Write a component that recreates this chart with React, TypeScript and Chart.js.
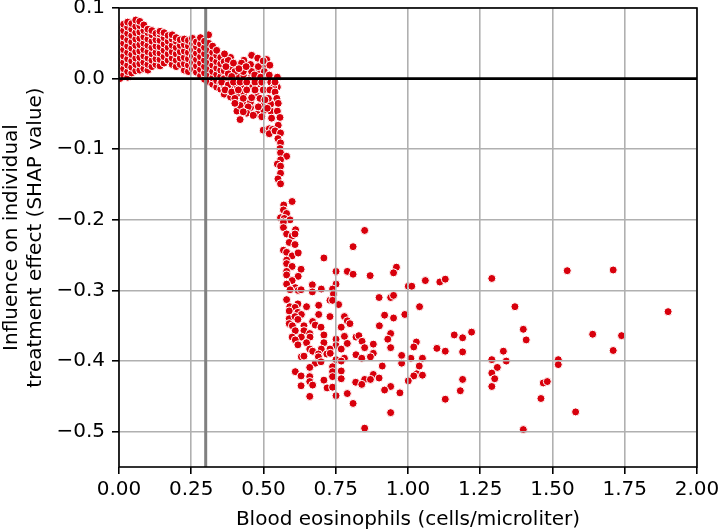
import React, { useEffect, useRef } from 'react';
import { Chart, registerables } from 'chart.js';

Chart.register(...registerables);

// ---- axis ticks / ranges ----
const xTicks = [0, 0.25, 0.5, 0.75, 1, 1.25, 1.5, 1.75, 2];
const yTicks = [0.1, 0, -0.1, -0.2, -0.3, -0.4, -0.5];
const xRange = [0, 2];
const yRange = [-0.55, 0.1];

// ---- reference lines ----
const thresholdX = 0.3;
const baselineY = 0;

const xTitle = 'Blood eosinophils (cells/microliter)';
const yTitle = ['Influence on individual', 'treatment effect (SHAP value)'];

// ---- data: dense cluster, read as columns (x, list of y) ----
const denseColumns: [number, number[]][] = [
  [0.003, [0.0, 0.009, 0.018, 0.027, 0.036, 0.045, 0.054, 0.063, 0.072]],
  [0.016, [0.005, 0.014, 0.023, 0.032, 0.041, 0.05, 0.059, 0.068, 0.077]],
  [0.03, [0.002, 0.01, 0.019, 0.028, 0.037, 0.046, 0.055, 0.064, 0.073, 0.08]],
  [0.044, [0.008, 0.016, 0.025, 0.034, 0.043, 0.052, 0.061, 0.07, 0.078]],
  [0.058, [0.011, 0.02, 0.029, 0.038, 0.047, 0.056, 0.065, 0.074, 0.083]],
  [0.072, [0.012, 0.021, 0.03, 0.039, 0.048, 0.057, 0.066, 0.075, 0.081]],
  [0.086, [0.014, 0.023, 0.032, 0.041, 0.05, 0.059, 0.068, 0.076]],
  [0.1, [0.012, 0.02, 0.029, 0.038, 0.047, 0.056, 0.065, 0.07]],
  [0.114, [0.017, 0.026, 0.035, 0.044, 0.053, 0.062, 0.068]],
  [0.128, [0.02, 0.028, 0.037, 0.046, 0.055, 0.064]],
  [0.142, [0.018, 0.027, 0.036, 0.045, 0.054, 0.063, 0.067]],
  [0.156, [0.022, 0.031, 0.04, 0.049, 0.058, 0.065]],
  [0.17, [0.026, 0.035, 0.044, 0.053, 0.061]],
  [0.184, [0.02, 0.029, 0.038, 0.047, 0.056, 0.062]],
  [0.198, [0.017, 0.026, 0.035, 0.044, 0.053, 0.058]],
  [0.212, [0.02, 0.029, 0.038, 0.047, 0.055]],
  [0.226, [0.012, 0.021, 0.03, 0.039, 0.048, 0.056]],
  [0.24, [0.01, 0.019, 0.028, 0.037, 0.046, 0.054]],
  [0.254, [0.014, 0.023, 0.032, 0.041, 0.05, 0.057]],
  [0.268, [0.009, 0.018, 0.027, 0.036, 0.045, 0.052]],
  [0.282, [0.004, 0.013, 0.022, 0.031, 0.04, 0.049, 0.058]],
  [0.296, [-0.001, 0.008, 0.017, 0.026, 0.035, 0.044, 0.053]],
  [0.31, [-0.004, 0.005, 0.014, 0.023, 0.032, 0.041, 0.05, 0.062]],
  [0.324, [-0.008, 0.001, 0.01, 0.019, 0.028, 0.037, 0.046]],
  [0.338, [-0.012, -0.003, 0.006, 0.015, 0.024, 0.033, 0.04]],
  [0.352, [-0.015, -0.006, 0.003, 0.012, 0.021, 0.03]],
  [0.364, [-0.022, -0.012, 0.0, 0.011, 0.024]],
  [0.386, [-0.026, -0.013, -0.001, 0.014, 0.03]],
  [0.408, [-0.046, -0.022, -0.01, 0.004, 0.019]],
  [0.432, [-0.036, -0.021, -0.009, 0.004, 0.026]],
  [0.455, [-0.041, -0.033, -0.01, 0.001, 0.02]],
  [0.478, [-0.05, -0.025, -0.008, 0.012]],
  [0.501, [-0.045, -0.036, 0.001, 0.015]],
  [0.525, [-0.046, -0.036, -0.005]],
  [0.548, [-0.046, -0.012, 0.002]],
];

// ---- data: transition zone 0.36 - 0.56 ----
const transitionPoints: [number, number][] = [
  [0.378, 0.026], [0.396, 0.022], [0.424, 0.022], [0.459, 0.033], [0.48, 0.029],
  [0.511, 0.027], [0.522, 0.019], [0.459, 0.01], [0.43, 0.01], [0.401, 0.01],
  [0.378, 0.007], [0.482, 0.017], [0.503, 0.01], [0.365, 0.035], [0.37, 0.017],
  [0.39, 0.003], [0.415, 0.014], [0.44, 0.017], [0.45, -0.002], [0.47, 0.005],
  [0.49, 0.002], [0.52, 0.005], [0.535, -0.012], [0.499, 0.025],
  [0.355, -0.005], [0.378, -0.009], [0.396, -0.005], [0.419, -0.005], [0.442, -0.005],
  [0.471, -0.005], [0.494, -0.005], [0.54, -0.005],
  [0.367, -0.016], [0.39, -0.019], [0.413, -0.016], [0.442, -0.016], [0.471, -0.016],
  [0.499, -0.016], [0.522, -0.016], [0.54, -0.019],
  [0.401, -0.028], [0.43, -0.028], [0.459, -0.027], [0.488, -0.028], [0.517, -0.028],
  [0.546, -0.028], [0.419, -0.038], [0.447, -0.04], [0.482, -0.04], [0.513, -0.042],
  [0.551, -0.035], [0.401, -0.035], [0.442, -0.049], [0.465, -0.052], [0.419, -0.058],
  [0.494, -0.054], [0.528, -0.056], [0.557, -0.055], [0.43, -0.047], [0.505, -0.03],
  [0.551, -0.066],
];

// ---- data: steep drop 0.5 - 0.58 ----
const dropPoints: [number, number][] = [
  [0.499, -0.073], [0.52, -0.071], [0.531, -0.072], [0.52, -0.078], [0.54, -0.074],
  [0.559, -0.077], [0.55, -0.085], [0.559, -0.091], [0.557, -0.099], [0.559, -0.105],
  [0.58, -0.11], [0.559, -0.115], [0.548, -0.121], [0.559, -0.124], [0.559, -0.134],
  [0.55, -0.142], [0.559, -0.149],
];

// ---- data: scattered tail (x > 0.55, y < -0.17) ----
const tailPoints: [number, number][] = [
  [0.599, -0.174], [0.57, -0.179], [0.569, -0.186], [0.58, -0.191], [0.559, -0.197],
  [0.572, -0.198], [0.592, -0.2], [0.569, -0.203], [0.569, -0.211], [0.611, -0.214],
  [0.58, -0.22], [0.599, -0.223], [0.609, -0.22], [0.85, -0.215], [0.589, -0.232],
  [0.609, -0.235], [0.81, -0.238], [0.569, -0.243], [0.58, -0.246], [0.599, -0.251],
  [0.62, -0.247], [0.709, -0.254], [0.58, -0.257], [0.58, -0.262], [0.599, -0.266],
  [0.63, -0.27], [0.58, -0.273], [0.751, -0.273], [0.79, -0.273], [0.81, -0.277],
  [0.869, -0.279], [0.58, -0.278], [0.62, -0.28], [0.599, -0.286], [0.58, -0.291],
  [0.61, -0.296], [0.669, -0.292], [0.751, -0.291], [0.592, -0.299], [0.62, -0.3],
  [0.63, -0.299], [0.669, -0.302], [0.7, -0.298], [0.739, -0.298], [0.742, -0.305],
  [0.58, -0.313], [0.73, -0.314], [0.739, -0.314], [0.76, -0.32], [0.619, -0.319],
  [0.591, -0.323], [0.609, -0.324], [0.649, -0.323], [0.691, -0.321], [0.589, -0.329],
  [0.619, -0.331], [0.631, -0.334], [0.691, -0.334], [0.73, -0.337], [0.9, -0.31],
  [0.94, -0.31], [0.95, -0.307], [0.96, -0.267], [0.95, -0.275], [0.589, -0.34],
  [0.609, -0.337], [0.619, -0.341], [0.78, -0.337], [0.919, -0.335], [0.95, -0.339],
  [0.589, -0.347], [0.6, -0.35], [0.64, -0.35], [0.67, -0.344], [0.679, -0.349],
  [0.699, -0.352], [0.769, -0.352], [0.79, -0.343], [0.799, -0.347], [0.901, -0.35],
  [0.61, -0.357], [0.64, -0.357], [0.66, -0.361], [0.709, -0.363], [0.599, -0.366],
  [0.631, -0.366], [0.661, -0.366], [0.78, -0.365], [0.82, -0.366], [0.83, -0.364],
  [0.94, -0.361], [0.93, -0.369], [0.61, -0.37], [0.619, -0.377], [0.649, -0.374],
  [0.709, -0.374], [0.751, -0.369], [0.751, -0.378], [0.79, -0.375], [0.841, -0.372],
  [0.88, -0.376], [0.85, -0.381], [0.94, -0.381], [0.66, -0.383], [0.7, -0.383],
  [0.73, -0.383], [0.769, -0.383], [0.67, -0.386], [0.69, -0.39], [0.719, -0.39],
  [0.731, -0.389], [0.88, -0.389], [0.631, -0.394], [0.64, -0.393], [0.69, -0.394],
  [0.78, -0.396], [0.82, -0.391], [0.84, -0.396], [0.87, -0.394], [0.751, -0.398],
  [0.769, -0.4], [0.679, -0.403], [0.699, -0.401], [0.66, -0.409], [0.739, -0.408],
  [0.911, -0.407], [0.61, -0.415], [0.739, -0.415], [0.769, -0.414], [0.88, -0.419],
  [0.63, -0.421], [0.66, -0.422], [0.739, -0.422], [0.769, -0.425], [0.9, -0.424],
  [0.85, -0.426], [0.87, -0.426], [0.819, -0.43], [0.84, -0.433], [0.66, -0.429],
  [0.709, -0.427], [0.63, -0.435], [0.67, -0.434], [0.72, -0.438], [0.739, -0.437],
  [0.94, -0.436], [0.919, -0.441], [0.79, -0.446], [0.66, -0.45], [0.751, -0.449],
  [0.81, -0.46], [0.94, -0.473], [0.85, -0.495],
  [1.001, -0.294], [1.013, -0.294], [1.06, -0.286], [1.11, -0.288], [1.129, -0.284],
  [1.29, -0.283], [1.04, -0.323], [0.989, -0.334], [1.37, -0.323], [1.399, -0.355],
  [1.409, -0.37], [1.16, -0.363], [1.189, -0.367], [1.22, -0.359], [1.029, -0.373],
  [1.02, -0.38], [1.1, -0.382], [1.129, -0.386], [1.189, -0.387], [1.33, -0.386],
  [0.978, -0.392], [0.978, -0.403], [1.01, -0.396], [1.05, -0.396], [1.29, -0.398],
  [1.34, -0.4], [1.039, -0.407], [1.309, -0.409], [1.03, -0.418], [1.02, -0.421],
  [1.05, -0.42], [1.29, -0.417], [1.3, -0.425], [1.001, -0.428], [1.189, -0.426],
  [1.29, -0.436], [0.972, -0.445], [1.181, -0.442], [1.129, -0.454], [1.399, -0.497],
  [1.551, -0.272], [1.71, -0.271], [1.9, -0.33], [1.639, -0.362], [1.739, -0.364],
  [1.71, -0.385], [1.52, -0.398], [1.52, -0.405], [1.468, -0.431], [1.482, -0.429],
  [1.46, -0.453], [1.58, -0.472],
];

const FONT = 'DejaVu Sans';
const POINT_COLOR = '#d8000c';

const refLinesAndFrame = {
  id: 'refLinesAndFrame',
  afterDraw(chart: any) {
    const { ctx, chartArea: a, scales } = chart;
    ctx.save();
    const xp = scales.x.getPixelForValue(thresholdX);
    ctx.strokeStyle = '#808080';
    ctx.lineWidth = 3;
    ctx.beginPath();
    ctx.moveTo(xp, a.top);
    ctx.lineTo(xp, a.bottom);
    ctx.stroke();
    const yp = scales.y.getPixelForValue(baselineY);
    ctx.strokeStyle = '#000';
    ctx.lineWidth = 2.7;
    ctx.beginPath();
    ctx.moveTo(a.left, yp);
    ctx.lineTo(a.right, yp);
    ctx.stroke();
    ctx.strokeStyle = '#000';
    ctx.lineWidth = 1.6;
    ctx.strokeRect(a.left, a.top, a.right - a.left, a.bottom - a.top);
    ctx.restore();
  },
};

export default function App() {
  const ref = useRef<HTMLCanvasElement | null>(null);

  useEffect(() => {
    document.body.style.margin = '0';
    const points: { x: number; y: number }[] = [];
    denseColumns.forEach(([x, ys]) => ys.forEach((y) => points.push({ x, y })));
    [...transitionPoints, ...dropPoints, ...tailPoints].forEach(([x, y]) => points.push({ x, y }));

    const chart = new Chart(ref.current as HTMLCanvasElement, {
      type: 'scatter',
      data: {
        datasets: [
          {
            data: points,
            backgroundColor: POINT_COLOR,
            borderColor: '#ffffff',
            borderWidth: 1,
            pointRadius: 4,
            pointHoverRadius: 4,
          },
        ],
      },
      options: {
        animation: false,
        responsive: false,
        events: [],
        layout: { padding: { left: 0, right: 22, top: 8, bottom: 0 } },
        plugins: { legend: { display: false }, tooltip: { enabled: false } },
        scales: {
          x: {
            type: 'linear',
            min: xRange[0],
            max: xRange[1],
            afterBuildTicks: (s: any) => {
              s.ticks = xTicks.map((value) => ({ value }));
            },
            afterFit: (s: any) => {
              s.height = 65;
              s.paddingLeft = 0;
              s.paddingRight = 0;
            },
            ticks: {
              font: { family: FONT, size: 20 },
              color: '#000',
              padding: 4,
              maxRotation: 0,
              autoSkip: false,
              callback: (v: any) => Number(v).toFixed(2),
            },
            grid: {
              color: '#b0b0b0',
              lineWidth: 1.6,
              z: 1,
              tickColor: '#000',
              tickLength: 7,
              tickWidth: 1.6,
            },
            border: { display: false },
            title: {
              display: true,
              text: xTitle,
              font: { family: FONT, size: 20 },
              color: '#000',
              padding: { top: 0, bottom: 0 },
            },
          },
          y: {
            type: 'linear',
            min: yRange[0],
            max: yRange[1],
            afterBuildTicks: (s: any) => {
              s.ticks = yTicks.map((value) => ({ value }));
            },
            afterFit: (s: any) => {
              s.width = 119;
              s.paddingTop = 0;
              s.paddingBottom = 0;
            },
            ticks: {
              font: { family: FONT, size: 20 },
              color: '#000',
              padding: 7,
              autoSkip: false,
              callback: (v: any) => Number(v).toFixed(1).replace('-', '\u2212'),
            },
            grid: {
              color: '#b0b0b0',
              lineWidth: 1.6,
              z: 1,
              tickColor: '#000',
              tickLength: 7,
              tickWidth: 1.6,
            },
            border: { display: false },
            title: {
              display: true,
              text: yTitle,
              font: { family: FONT, size: 20 },
              color: '#000',
              padding: { top: 0, bottom: 0 },
            },
          },
        },
      },
      plugins: [refLinesAndFrame],
    });
    return () => chart.destroy();
  }, []);

  return (
    <div style={{ position: 'absolute', left: 0, top: 0, width: 719, height: 532 }}>
      <canvas ref={ref} width={719} height={532} style={{ display: 'block' }} />
    </div>
  );
}
